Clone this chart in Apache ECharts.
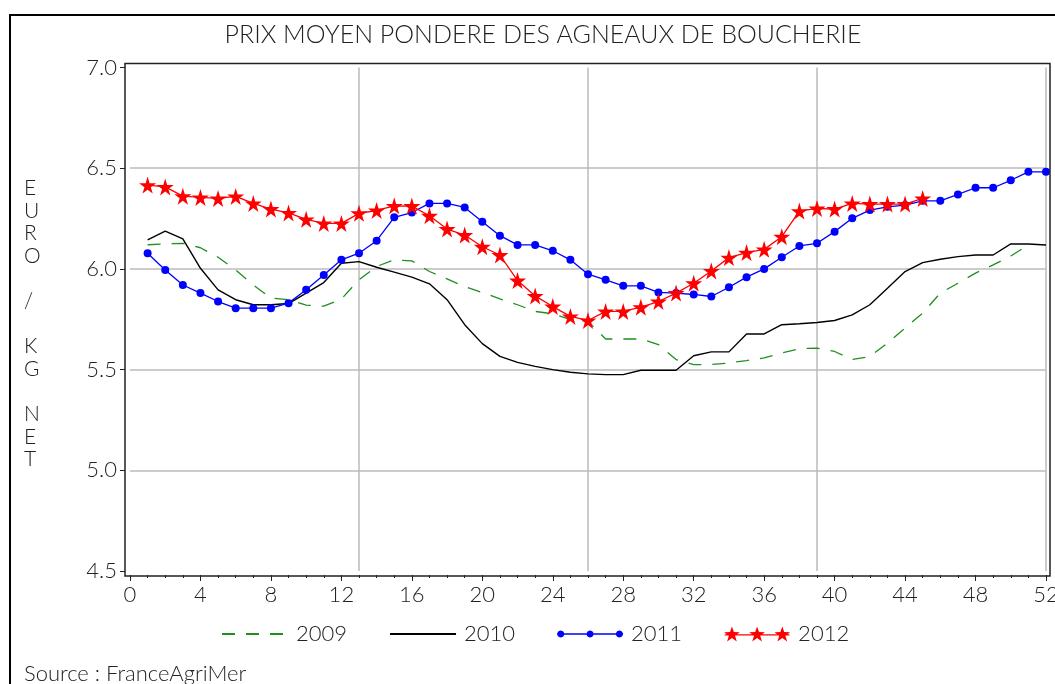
<!DOCTYPE html>
<html>
<head>
<meta charset="utf-8">
<script src="https://cdn.jsdelivr.net/npm/echarts@6/dist/echarts.min.js"></script>
<style>
  html, body { margin: 0; padding: 0; background: #fff; }
  #chart { width: 1055px; height: 684px; }
</style>
</head>
<body>
<div id="chart"></div>
<script>
// semaines et prix (euro / kg net)
const weeks = [1,2,3,4,5,6,7,8,9,10,11,12,13,14,15,16,17,18,19,20,21,22,23,24,25,26,
  27,28,29,30,31,32,33,34,35,36,37,38,39,40,41,42,43,44,45,46,47,48,49,50,51,52]

const prix2009 = [6.12,6.124,6.127,6.105,6.058,5.995,5.92,5.855,5.847,5.82,5.815,5.85,5.946,6.012,6.045,6.04,
  5.987,5.95,5.912,5.883,5.851,5.822,5.789,5.777,5.748,5.739,5.652,5.652,5.652,5.624,5.55,5.525,5.525,5.533,
  5.545,5.558,5.583,5.604,5.607,5.59,5.55,5.565,5.632,5.706,5.781,5.88,5.929,5.979,6.02,6.064,6.119]
const prix2010 = [6.144,6.188,6.149,6.003,5.896,5.847,5.822,5.822,5.828,5.88,5.932,6.028,6.036,6.008,5.984,
  5.959,5.926,5.847,5.723,5.629,5.566,5.536,5.516,5.5,5.487,5.479,5.475,5.475,5.497,5.497,5.497,5.569,5.588,
  5.588,5.677,5.677,5.723,5.728,5.734,5.744,5.772,5.822,5.904,5.987,6.031,6.048,6.061,6.069,6.069,6.124,6.124,6.119]
const prix2011 = [6.078,5.995,5.92,5.88,5.838,5.805,5.805,5.805,5.83,5.896,5.97,6.045,6.078,6.14,6.256,6.28,
  6.325,6.325,6.305,6.234,6.165,6.119,6.119,6.09,6.045,5.974,5.946,5.916,5.916,5.883,5.88,5.873,5.863,5.909,
  5.959,6.0,6.058,6.114,6.127,6.185,6.251,6.292,6.308,6.317,6.338,6.338,6.37,6.403,6.403,6.44,6.482,6.482]
const prix2012 = [6.416,6.407,6.361,6.355,6.35,6.36,6.325,6.297,6.278,6.246,6.226,6.226,6.276,6.29,6.313,6.312,
  6.264,6.198,6.168,6.11,6.069,5.942,5.866,5.813,5.764,5.744,5.789,5.789,5.81,5.838,5.88,5.929,5.99,6.056,
  6.081,6.097,6.16,6.287,6.3,6.297,6.325,6.322,6.322,6.322,6.35]

const annees = ['2009', '2010', '2011', '2012']

const chart = echarts.init(document.getElementById('chart'))
const police = 'Lato'
const etoile = 'path://M50,0 L61,35 L98,35 L68,57 L79,91 L50,70 L21,91 L32,57 L2,35 L39,35 Z'

function paires(vals) {
  return vals.map((v, i) => [weeks[i], v])
}

// icones de legende : trait avec trois marqueurs
function polygone(cx, cy, n, rayon) {
  let d = ''
  for (let k = 0; k < n; k++) {
    const r = rayon(k)
    const a = -Math.PI / 2 + k * 2 * Math.PI / n
    d += (k ? 'L' : 'M') + (cx + r * Math.cos(a)).toFixed(2) + ',' + (cy + r * Math.sin(a)).toFixed(2) + ' '
  }
  return d + 'Z '
}
const cheminEtoile = (cx, cy, R) => polygone(cx, cy, 10, k => (k % 2 ? R * 0.4 : R))
const cheminRond = (cx, cy, R) => polygone(cx, cy, 24, () => R)
const trait = 'M0,7.4 L63,7.4 L63,8.6 L0,8.6 Z '
const iconeRonds = 'path://' + trait + cheminRond(3.5, 8, 3.3) + cheminRond(31.5, 8, 3.3) + cheminRond(59.5, 8, 3.3)
const iconeEtoiles = 'path://' + trait + cheminEtoile(7, 8, 8) + cheminEtoile(31.5, 8, 8) + cheminEtoile(56, 8, 8)

const texte = { fontWeight: 300, color: '#222', fontFamily: police }

const option = {
  animation: false,
  backgroundColor: '#fff',
  textStyle: { fontFamily: police },
  title: [
    {
      text: 'PRIX MOYEN PONDERE DES AGNEAUX DE BOUCHERIE',
      left: 538, top: 17, textAlign: 'center',
      textStyle: Object.assign({ fontSize: 25 }, texte)
    },
    {
      text: 'E\nU\nR\nO\n\n/\n\nK\nG\n\nN\nE\nT',
      left: 19, top: 172,
      textStyle: Object.assign({ fontSize: 21, lineHeight: 22.6 }, texte)
    },
    {
      text: 'Source : FranceAgriMer',
      left: 19, top: 658,
      textStyle: Object.assign({ fontSize: 22 }, texte)
    }
  ],
  graphic: [
    {
      type: 'rect',
      shape: { x: 10, y: 15, width: 1100, height: 700 },
      style: { fill: 'none', stroke: '#000', lineWidth: 2 }
    },
    {
      type: 'rect', z: 10,
      shape: { x: 125, y: 63.5, width: 925, height: 512.5 },
      style: { fill: 'none', stroke: '#222', lineWidth: 1.5 }
    }
  ],
  legend: {
    data: [
      { name: '2009', itemStyle: { opacity: 0 } },
      { name: '2010', itemStyle: { opacity: 0 } },
      { name: '2011', icon: iconeRonds },
      { name: '2012', icon: iconeEtoiles }
    ],
    left: 216, top: 618,
    itemWidth: 66, itemHeight: 16, itemGap: 42,
    textStyle: Object.assign({ fontSize: 22, padding: [0, 0, 0, 3] }, texte)
  },
  grid: { left: 130, right: 9, top: 67.5, bottom: 113, containLabel: false, outerBoundsMode: 'none' },
  xAxis: [
    {
      type: 'value', min: 0, max: 52, interval: 4, offset: 4,
      axisLine: { show: false, onZero: false },
      axisTick: { show: true, length: 6, lineStyle: { color: '#222' } },
      minorTick: { show: true, splitNumber: 4, length: 3, lineStyle: { color: '#222' } },
      axisLabel: Object.assign({ fontSize: 22, margin: 9 }, texte),
      splitLine: { show: false }
    },
    {
      type: 'value', min: 0, max: 52, interval: 13,
      axisLine: { show: false }, axisTick: { show: false }, axisLabel: { show: false },
      splitLine: { show: true, showMinLine: false, lineStyle: { color: '#bbb', width: 1.5 } }
    }
  ],
  yAxis: [
    {
      type: 'value', min: 4.5, max: 7.0, interval: 0.5, offset: 5,
      axisLine: { show: false, onZero: false },
      axisTick: { show: true, length: 5, lineStyle: { color: '#222' } },
      axisLabel: Object.assign({ fontSize: 22, margin: 8, formatter: v => v.toFixed(1) }, texte),
      splitLine: { show: true, showMinLine: false, showMaxLine: false, lineStyle: { color: '#bbb', width: 1.5 } }
    }
  ],
  series: [
    {
      name: '2009', type: 'line', data: paires(prix2009),
      symbol: 'none', color: '#1f8f1f',
      lineStyle: { color: '#1f8f1f', width: 1.3, type: [13, 11] }
    },
    {
      name: '2010', type: 'line', data: paires(prix2010),
      symbol: 'none', color: '#000',
      lineStyle: { color: '#000', width: 1.4 }
    },
    {
      name: '2011', type: 'line', data: paires(prix2011),
      symbol: 'circle', symbolSize: 8, color: '#0000ff',
      itemStyle: { color: '#0000ff' },
      lineStyle: { color: '#0000ff', width: 1.3 }
    },
    {
      name: '2012', type: 'line', data: paires(prix2012),
      symbol: etoile, symbolSize: 17, color: '#ff0000',
      itemStyle: { color: '#ff0000' },
      lineStyle: { color: '#ff0000', width: 1.3 }
    }
  ]
}

chart.setOption(option)
window.onresize = function () {
  chart.resize()
}
</script>
</body>
</html>
